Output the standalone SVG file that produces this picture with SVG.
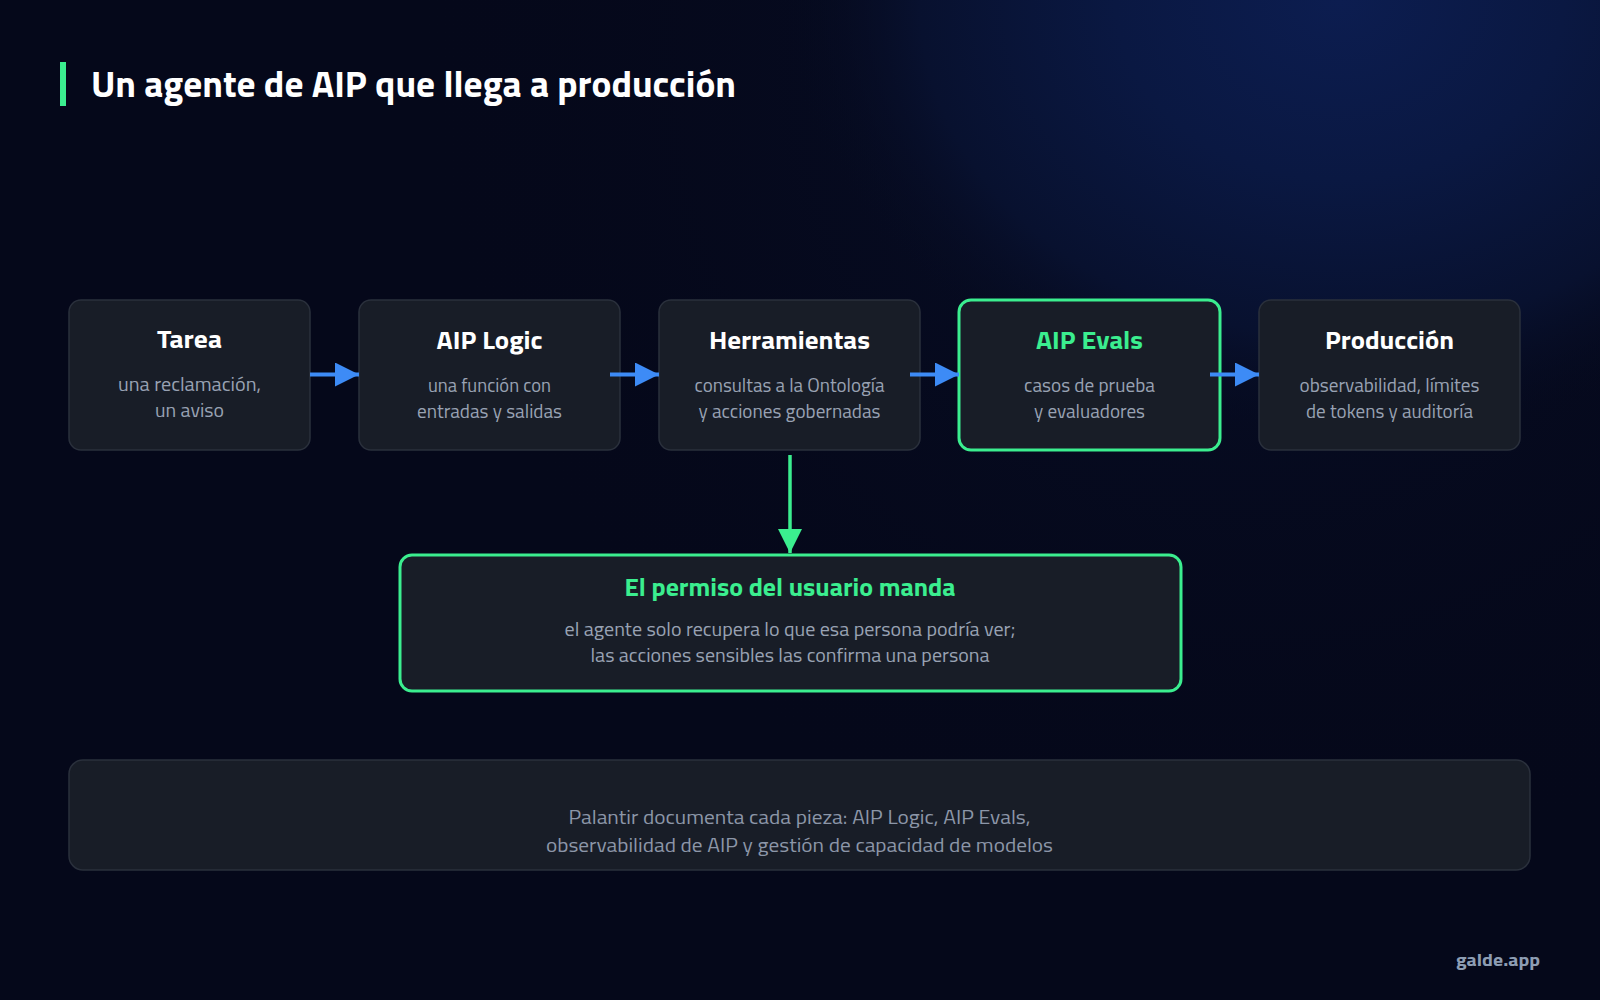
<svg xmlns="http://www.w3.org/2000/svg" width="1600" height="1000" viewBox="0 0 1600 1000">
  <defs>
    <radialGradient id="glow" cx="1340" cy="0" r="560" gradientUnits="userSpaceOnUse" gradientTransform="translate(1340 0) scale(1 0.8) translate(-1340 0)">
      <stop offset="0" stop-color="#0c1d50"/>
      <stop offset="0.4" stop-color="#0a1842"/>
      <stop offset="0.75" stop-color="#08112f"/>
      <stop offset="1" stop-color="#060a1e" stop-opacity="0"/>
    </radialGradient>
    <radialGradient id="glow2" cx="1250" cy="60" r="850" gradientUnits="userSpaceOnUse">
      <stop offset="0" stop-color="#08102c"/>
      <stop offset="1" stop-color="#05081a" stop-opacity="0"/>
    </radialGradient>
    <marker id="ab" viewBox="0 0 24 24" refX="24" refY="12" markerWidth="24" markerHeight="24" markerUnits="userSpaceOnUse" orient="auto">
      <path d="M0,0 L24,12 L0,24 Z" fill="#3d8bf6"/>
    </marker>
    <marker id="ag" viewBox="0 0 24 24" refX="24" refY="12" markerWidth="24" markerHeight="24" markerUnits="userSpaceOnUse" orient="auto">
      <path d="M0,0 L24,12 L0,24 Z" fill="#3bee8f"/>
    </marker>
  </defs>
  <style>
    text { font-family: "Titillium Web", "Liberation Sans Narrow", "Liberation Sans", sans-serif; }
    .node { fill: #181d27; stroke: #2a303c; stroke-width: 1.5; }
    .hl { fill: #181d27; stroke: #3bee8f; stroke-width: 3; }
    .t { font-size: 26px; font-weight: 700; fill: #ffffff; text-anchor: middle; }
    .tg { font-size: 26px; font-weight: 700; fill: #3bee8f; text-anchor: middle; }
    .s { font-size: 18.5px; fill: #98a2b3; text-anchor: middle; }
    .f { font-size: 20px; fill: #8c96a8; text-anchor: middle; }
    .cb { stroke: #3d8bf6; stroke-width: 4; fill: none; }
    .cg { stroke: #3bee8f; stroke-width: 3.5; fill: none; }
  </style>

  <rect x="0" y="0" width="1600" height="1000" fill="#05081a"/>
  <rect x="0" y="0" width="1600" height="1000" fill="url(#glow2)"/>
  <rect x="0" y="0" width="1600" height="1000" fill="url(#glow)"/>

  <g id="title">
    <rect x="60" y="62" width="6" height="44" fill="#3bee8f"/>
    <text x="91" y="97" font-size="37" font-weight="700" fill="#ffffff" textLength="645" lengthAdjust="spacingAndGlyphs">Un agente de AIP que llega a producción</text>
  </g>

  <g id="node-tarea">
    <rect class="node" x="69" y="300" width="241" height="150" rx="12"/>
    <text class="t" x="189.5" y="348" textLength="65" lengthAdjust="spacingAndGlyphs">Tarea</text>
    <text class="s" x="189.5" y="391" textLength="143" lengthAdjust="spacingAndGlyphs">una reclamación,</text>
    <text class="s" x="189.5" y="417" textLength="69" lengthAdjust="spacingAndGlyphs">un aviso</text>
  </g>

  <g id="node-aiplogic">
    <rect class="node" x="359" y="300" width="261" height="150" rx="12"/>
    <text class="t" x="489.5" y="349" textLength="106" lengthAdjust="spacingAndGlyphs">AIP Logic</text>
    <text class="s" x="489.5" y="392" textLength="123" lengthAdjust="spacingAndGlyphs">una función con</text>
    <text class="s" x="489.5" y="418" textLength="145" lengthAdjust="spacingAndGlyphs">entradas y salidas</text>
  </g>

  <g id="node-herramientas">
    <rect class="node" x="659" y="300" width="261" height="150" rx="12"/>
    <text class="t" x="789.5" y="349" textLength="161" lengthAdjust="spacingAndGlyphs">Herramientas</text>
    <text class="s" x="789.5" y="392" textLength="190" lengthAdjust="spacingAndGlyphs">consultas a la Ontología</text>
    <text class="s" x="789.5" y="418" textLength="182" lengthAdjust="spacingAndGlyphs">y acciones gobernadas</text>
  </g>

  <g id="node-aipevals">
    <rect class="hl" x="959" y="300" width="261" height="150" rx="12"/>
    <text class="tg" x="1089.5" y="349" textLength="107" lengthAdjust="spacingAndGlyphs">AIP Evals</text>
    <text class="s" x="1089.5" y="392" textLength="131" lengthAdjust="spacingAndGlyphs">casos de prueba</text>
    <text class="s" x="1089.5" y="418" textLength="111" lengthAdjust="spacingAndGlyphs">y evaluadores</text>
  </g>

  <g id="node-produccion">
    <rect class="node" x="1259" y="300" width="261" height="150" rx="12"/>
    <text class="t" x="1389.5" y="349" textLength="129" lengthAdjust="spacingAndGlyphs">Producción</text>
    <text class="s" x="1389.5" y="392" textLength="180" lengthAdjust="spacingAndGlyphs">observabilidad, límites</text>
    <text class="s" x="1389.5" y="418" textLength="167" lengthAdjust="spacingAndGlyphs">de tokens y auditoría</text>
  </g>

  <g id="node-permiso">
    <rect class="hl" x="400" y="555" width="781" height="136" rx="12"/>
    <text class="tg" x="790" y="595.5" font-size="24" textLength="331" lengthAdjust="spacingAndGlyphs">El permiso del usuario manda</text>
    <text class="s" x="790" y="636" textLength="451" lengthAdjust="spacingAndGlyphs">el agente solo recupera lo que esa persona podría ver;</text>
    <text class="s" x="790" y="662" textLength="399" lengthAdjust="spacingAndGlyphs">las acciones sensibles las confirma una persona</text>
  </g>

  <g id="connectors">
    <line class="cb" x1="310" y1="374.5" x2="359" y2="374.5" marker-end="url(#ab)"/>
    <line class="cb" x1="610" y1="374.5" x2="659" y2="374.5" marker-end="url(#ab)"/>
    <line class="cb" x1="910" y1="374.5" x2="959" y2="374.5" marker-end="url(#ab)"/>
    <line class="cb" x1="1210" y1="374.5" x2="1259" y2="374.5" marker-end="url(#ab)"/>
    <line class="cg" x1="790" y1="455" x2="790" y2="553" marker-end="url(#ag)"/>
  </g>

  <g id="footer-note">
    <rect class="node" x="69" y="760" width="1461" height="110" rx="14"/>
    <text class="f" x="799.5" y="823.5" textLength="462" lengthAdjust="spacingAndGlyphs">Palantir documenta cada pieza: AIP Logic, AIP Evals,</text>
    <text class="f" x="799.5" y="852" textLength="507" lengthAdjust="spacingAndGlyphs">observabilidad de AIP y gestión de capacidad de modelos</text>
  </g>

  <g id="brand">
    <text x="1540" y="966" font-size="18" font-weight="700" fill="#8d9db3" text-anchor="end" textLength="84" lengthAdjust="spacingAndGlyphs">galde.app</text>
  </g>
</svg>
